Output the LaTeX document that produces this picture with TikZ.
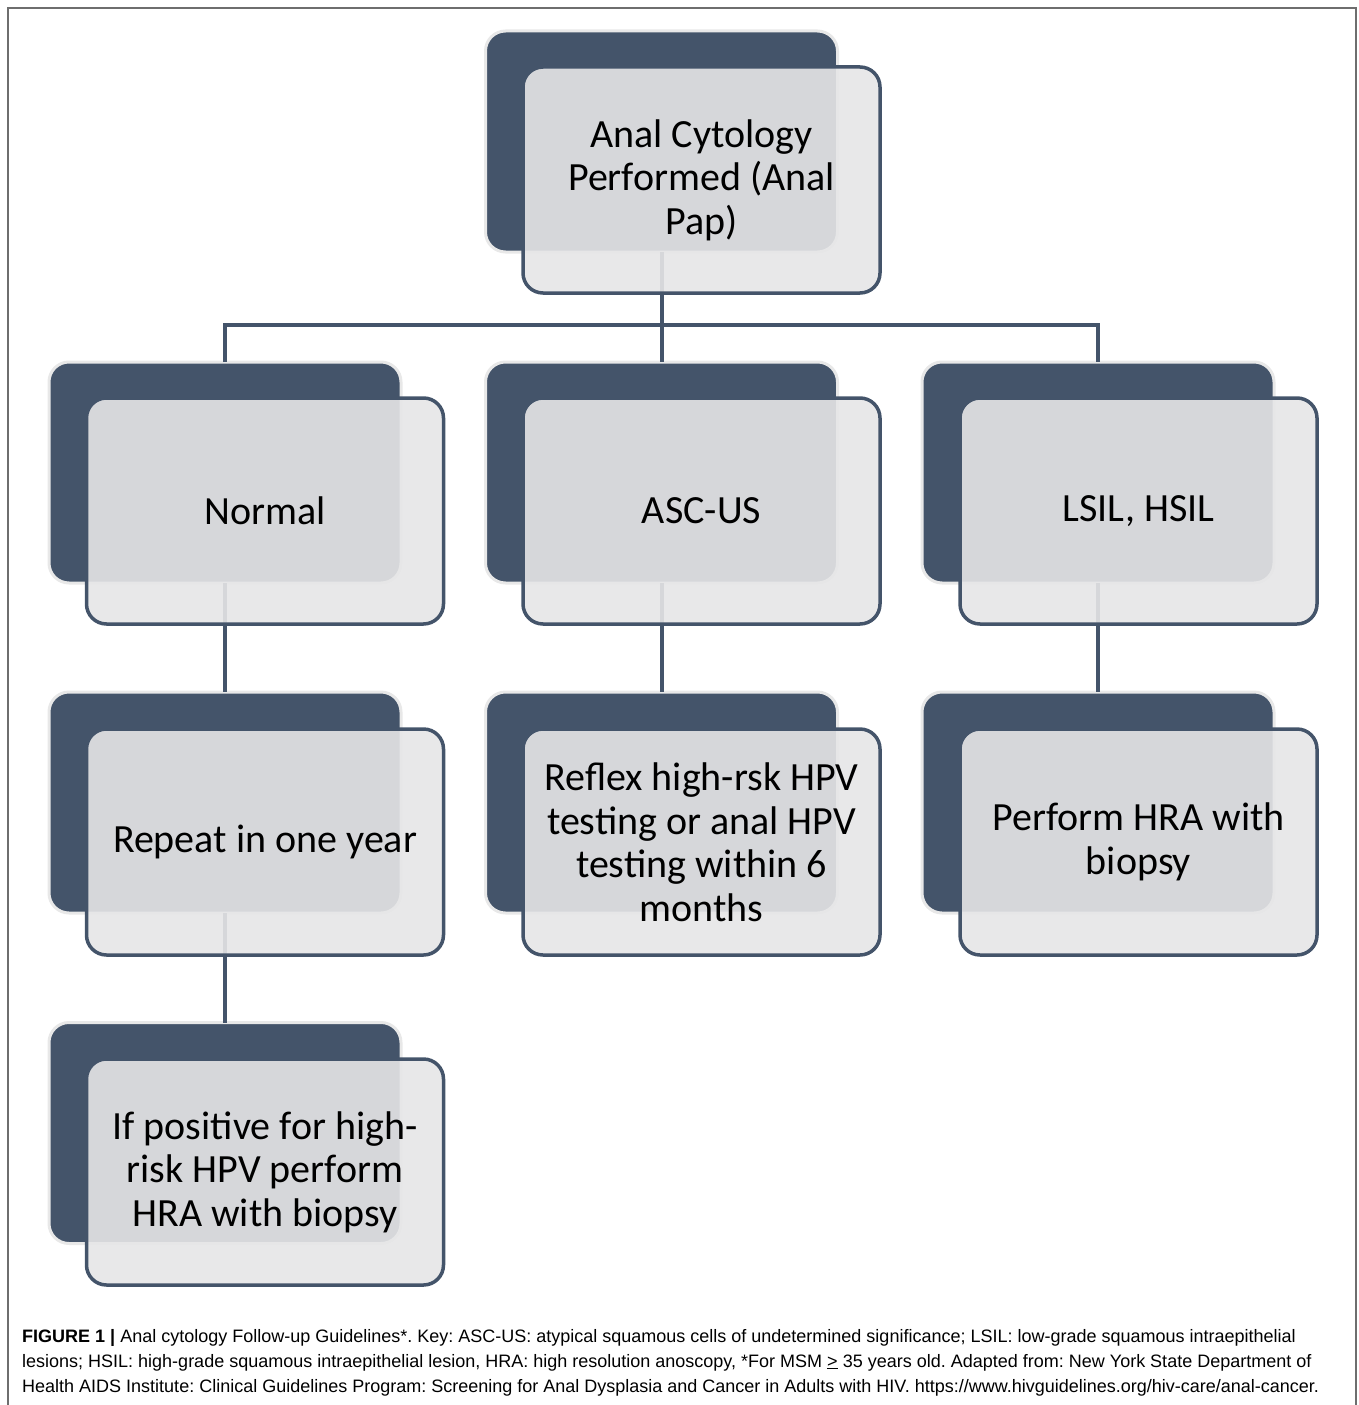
\documentclass[tikz,border=0pt]{standalone}
\usepackage{fontspec}
\setmainfont{Carlito}
\newfontfamily\capfont{Liberation Sans}
\definecolor{navy}{RGB}{68,84,106}
\definecolor{frontgray}{RGB}{230,230,231}
\definecolor{backedge}{RGB}{232,232,232}
\definecolor{framegray}{RGB}{110,110,110}
\frenchspacing
\begin{document}
\begin{tikzpicture}[x=1pt,y=-1pt,
  backbox/.style={draw=backedge, line width=3pt, fill=navy, rounded corners=20pt,
    minimum width=352pt, minimum height=221pt, inner sep=0pt, outer sep=0pt},
  frontbox/.style={draw=navy, line width=3.5pt, fill=frontgray, fill opacity=0.9,
    text opacity=1, rounded corners=20pt, minimum width=357pt, minimum height=226pt,
    align=center, font=\fontsize{40}{43.5}\selectfont, text=black, inner sep=0pt, outer sep=0pt},
  link/.style={draw=navy, line width=4pt, line join=miter},
  capline/.style={anchor=base west, inner sep=0pt, font=\capfont\fontsize{18}{22}\selectfont}]
\useasboundingbox (0,0) rectangle (1358,1405);
\draw[framegray, line width=1.6pt] (8,1405) -- (8,8) -- (1356,8) -- (1356,1405);

% back boxes
\node[backbox] (tb) at (661.5,141.5) {};
\node[backbox] (nb) at (225,472.5) {};
\node[backbox] (ab) at (661.5,472.5) {};
\node[backbox] (lb) at (1098,472.5) {};
\node[backbox] (rb) at (225,802.5) {};
\node[backbox] (xb) at (661.5,802.5) {};
\node[backbox] (pb) at (1098,802.5) {};
\node[backbox] (ib) at (225,1133) {};

% connectors
\coordinate (busL) at (225,325);
\coordinate (busM) at (661.5,325);
\coordinate (busR) at (1098,325);
\draw[link] (tb.south) -- (busM);
\draw[link] (nb.north) -- (busL) -- (busR) -- (lb.north);
\draw[link] (busM) -- (ab.north);
\draw[link] (nb.south) -- (rb.north);
\draw[link] (ab.south) -- (xb.north);
\draw[link] (lb.south) -- (pb.north);
\draw[link] (rb.south) -- (ib.north);

% front boxes
\node[frontbox] (tf) at (701.5,180) {Anal Cytology\\Performed (Anal\\Pap)};
\node[frontbox] (nf) at (265,511) {Normal};
\node[frontbox] (af) at (701.5,511) {ASC-US};
\node[frontbox] (lf) at (1138.5,511) {LSIL, HSIL};
\node[frontbox] (rf) at (265,842) {Repeat in one year};
\node[frontbox] (xf) at (701.5,842) {Reflex high-rsk HPV\\testing or anal HPV\\testing within 6\\months};
\node[frontbox] (pf) at (1138.5,842) {Perform HRA with\\biopsy};
\node[frontbox] (if) at (265,1172) {If positive for high-\\risk HPV perform\\HRA with biopsy};

% caption
\node[capline] (c1) at (22,1342) {\textbf{FIGURE 1 |} Anal cytology Follow-up Guidelines*. Key: ASC-US: atypical squamous cells of undetermined significance; LSIL: low-grade squamous intraepithelial};
\node[capline] (c2) at (22,1367) {lesions; HSIL: high-grade squamous intraepithelial lesion, HRA: high resolution anoscopy, *For MSM \underline{>} 35 years old. Adapted from: New York State Department of};
\node[capline] (c3) at (22,1392) {Health AIDS Institute: Clinical Guidelines Program: Screening for Anal Dysplasia and Cancer in Adults with HIV. https://www.hivguidelines.org/hiv-care/anal-cancer.};
\end{tikzpicture}
\end{document}
